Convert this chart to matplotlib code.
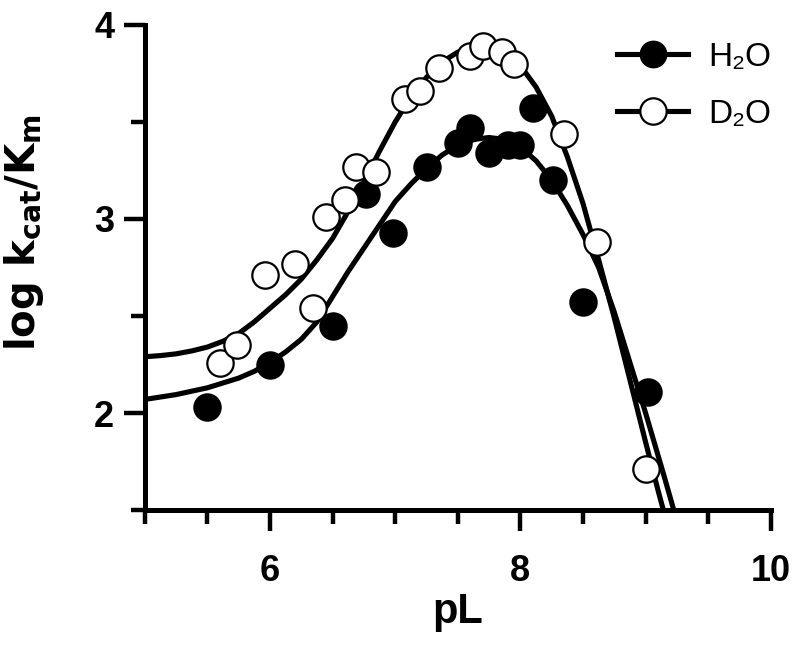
import matplotlib
matplotlib.use("Agg")
import matplotlib.pyplot as plt
from matplotlib.ticker import FixedLocator, MultipleLocator

plt.rcParams['font.family'] = ['Liberation Sans', 'DejaVu Sans']
plt.rcParams['mathtext.fontset'] = 'custom'
plt.rcParams['mathtext.rm'] = 'DejaVu Sans:bold'
plt.rcParams['mathtext.it'] = 'DejaVu Sans:bold'
plt.rcParams['mathtext.bf'] = 'DejaVu Sans:bold'
plt.rcParams['mathtext.sf'] = 'DejaVu Sans:bold'

# ---- data ----
h2o_x = [5.5, 6.0, 6.5, 6.77, 6.98, 7.25, 7.5, 7.6, 7.75, 7.9, 8.0, 8.1, 8.26, 8.5, 9.02]
h2o_y = [2.03, 2.25, 2.45, 3.13, 2.93, 3.27, 3.39, 3.47, 3.34, 3.38, 3.38, 3.57, 3.20, 2.57, 2.11]

d2o_x = [5.6, 5.74, 5.96, 6.2, 6.34, 6.45, 6.6, 6.69, 6.85, 7.08, 7.2, 7.35, 7.6, 7.7, 7.85, 7.95, 8.35, 8.61, 9.0]
d2o_y = [2.26, 2.35, 2.71, 2.77, 2.54, 3.01, 3.10, 3.27, 3.24, 3.62, 3.66, 3.78, 3.84, 3.89, 3.86, 3.80, 3.44, 2.88, 1.71]

# fitted curves
h2o_fit_x = [5.0, 5.25, 5.5, 5.75, 5.875, 6.0, 6.125, 6.25, 6.375, 6.5, 6.625, 6.75, 6.875,
             7.0, 7.125, 7.25, 7.375, 7.5, 7.625, 7.75, 7.875, 8.0, 8.125, 8.25, 8.375,
             8.5, 8.625, 8.75, 8.875, 9.0, 9.15, 9.3]
h2o_fit_y = [2.07, 2.095, 2.13, 2.18, 2.215, 2.26, 2.315, 2.38, 2.47, 2.60, 2.73, 2.85, 2.97,
             3.09, 3.18, 3.26, 3.33, 3.38, 3.41, 3.42, 3.41, 3.37, 3.30, 3.20, 3.07,
             2.92, 2.75, 2.52, 2.26, 2.00, 1.67, 1.33]

d2o_fit_x = [5.0, 5.125, 5.25, 5.375, 5.5, 5.625, 5.75, 5.875, 6.0, 6.125, 6.25, 6.375, 6.5,
             6.625, 6.75, 6.875, 7.0, 7.125, 7.25, 7.375, 7.5, 7.625, 7.75, 7.875, 8.0,
             8.125, 8.25, 8.375, 8.5, 8.625, 8.75, 8.875, 9.0, 9.1, 9.2]
d2o_fit_y = [2.29, 2.296, 2.305, 2.32, 2.34, 2.37, 2.41, 2.47, 2.54, 2.61, 2.69, 2.79, 2.90,
             3.04, 3.19, 3.35, 3.50, 3.63, 3.73, 3.81, 3.86, 3.89, 3.89, 3.855, 3.79,
             3.68, 3.53, 3.32, 3.08, 2.79, 2.49, 2.17, 1.85, 1.60, 1.36]

x_major = [6, 8, 10]
y_major = [2, 3, 4]
series_labels = ['H\u2082O', 'D\u2082O']

fig = plt.figure(figsize=(8.0, 6.47), dpi=100)
ax = fig.add_axes([0.181, 0.2117, 0.7825, 0.7497])

lw = 3.7
ms = 19
for fx, fy in [(h2o_fit_x, h2o_fit_y), (d2o_fit_x, d2o_fit_y)]:
    ax.plot(fx, fy, color='black', lw=lw, zorder=2,
            solid_capstyle='butt', solid_joinstyle='round')
ax.plot(h2o_x, h2o_y, 'o', ms=ms, mfc='black', mec='black', mew=1.5, zorder=3)
ax.plot(d2o_x, d2o_y, 'o', ms=ms, mfc='white', mec='black', mew=1.6, zorder=4)

ax.set_xlim(5, 10)
ax.set_ylim(1.5, 4)

for s in ['top', 'right']:
    ax.spines[s].set_visible(False)
for s in ['left', 'bottom']:
    ax.spines[s].set_linewidth(3.6)
    ax.spines[s].set_capstyle('projecting')

ax.xaxis.set_major_locator(FixedLocator(x_major))
ax.xaxis.set_minor_locator(MultipleLocator(0.5))
ax.yaxis.set_major_locator(FixedLocator(y_major))
ax.yaxis.set_minor_locator(MultipleLocator(0.5))

ax.tick_params(axis='both', which='major', direction='out', length=15, width=3.2)
ax.tick_params(axis='both', which='minor', direction='out', length=10, width=3.2)
ax.tick_params(axis='x', which='major', pad=17)
ax.tick_params(axis='y', which='major', pad=7)
for lab in ax.get_xticklabels() + ax.get_yticklabels():
    lab.set_fontsize(26)
    lab.set_fontweight('bold')

ax.set_xlabel('pL', fontsize=30, fontweight='bold', labelpad=2)
ax.set_ylabel(r'log k$_{\mathrm{cat}}$/K$_{\mathrm{m}}$', fontsize=29, fontweight='bold',
              family=['DejaVu Sans'])
ax.yaxis.set_label_coords(-0.158, 0.573)

h1, = ax.plot([], [], '-o', color='black', lw=lw, ms=ms, mfc='black', mec='black')
h2, = ax.plot([], [], '-o', color='black', lw=lw, ms=ms, mfc='white', mec='black', mew=1.6)
leg = ax.legend([h1, h2], series_labels, loc='upper left',
                bbox_to_anchor=(600 / 800, 1 - 25 / 647), bbox_transform=fig.transFigure,
                frameon=False, fontsize=24, handlelength=2.15, handletextpad=0.6,
                labelspacing=0.78, borderpad=0, numpoints=1)

fig.savefig('out.png', dpi=100)
